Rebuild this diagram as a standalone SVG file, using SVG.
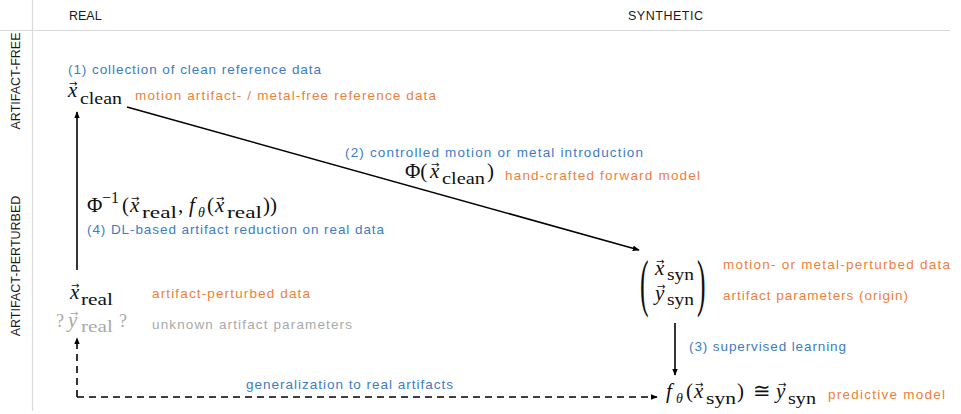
<svg xmlns="http://www.w3.org/2000/svg" width="961" height="414" viewBox="0 0 961 414">
<defs>
<style>
.lbl{font-family:"Liberation Sans",Arial,sans-serif;font-size:13.5px}
.hdr{font-family:"Liberation Sans",Arial,sans-serif;font-size:12.5px;fill:#1a1a1a}
.blue{fill:#3d7cc2}
.orange{fill:#ee7f38}
.gray{fill:#a9a9a9}
.m{font-family:"Liberation Serif","DejaVu Serif",serif;font-size:21px;fill:#111}
.mg{fill:#a9a9a9}
.it{font-style:italic}
.sub{font-size:17px}
.vec{font-family:"DejaVu Sans",sans-serif;font-size:10px;font-style:normal}
.grid{stroke:#d9d9d9;stroke-width:1.2;fill:none}
.edge{stroke:#000;stroke-width:1.6;fill:none}
.dash{stroke-dasharray:7 5}
</style>
<marker id="ah" viewBox="0 0 10 10" refX="9" refY="5" markerWidth="7" markerHeight="7" orient="auto" markerUnits="userSpaceOnUse">
<path d="M0,1 L10,5 L0,9 z" fill="#000"/>
</marker>
</defs>
<rect width="961" height="414" fill="#fff"/>
<g id="grid">
<line class="grid" x1="0" y1="30.5" x2="950" y2="30.5"/>
<line class="grid" x1="32.5" y1="0" x2="32.5" y2="411"/>
</g>
<g id="headers">
<text class="hdr" x="69" y="20">REAL</text>
<text class="hdr" x="628" y="20" textLength="75">SYNTHETIC</text>
<text class="hdr" transform="translate(20,81) rotate(-90)" text-anchor="middle">ARTIFACT-FREE</text>
<text class="hdr" transform="translate(20,266) rotate(-90)" text-anchor="middle">ARTIFACT-PERTURBED</text>
</g>
<g id="connectors">
<line class="edge" x1="127" y1="107" x2="639" y2="250" marker-end="url(#ah)"/>
<line class="edge" x1="77" y1="270" x2="77" y2="112" marker-end="url(#ah)"/>
<line class="edge" x1="675" y1="323" x2="675" y2="375" marker-end="url(#ah)"/>
<line class="edge dash" x1="77" y1="397" x2="77" y2="338" marker-end="url(#ah)"/>
<line class="edge dash" x1="77" y1="397" x2="657" y2="397" marker-end="url(#ah)"/>
</g>
<g id="node-clean">
<text class="lbl blue" x="68" y="74" textLength="253">(1) collection of clean reference data</text>
<text class="m"><tspan class="vec" x="69" y="87">→</tspan><tspan class="it" x="68" y="97">x</tspan><tspan class="sub" x="80" y="104" textLength="42" lengthAdjust="spacingAndGlyphs">clean</tspan></text>
<text class="lbl orange" x="135" y="100" textLength="301">motion artifact- / metal-free reference data</text>
</g>
<g id="label-forward">
<text class="lbl blue" x="345" y="157" textLength="298">(2) controlled motion or metal introduction</text>
<text class="m"><tspan x="405" y="178">Φ(</tspan><tspan class="vec" x="431" y="168">→</tspan><tspan class="it" x="430" y="178">x</tspan><tspan class="sub" x="442" y="184" textLength="43" lengthAdjust="spacingAndGlyphs">clean</tspan><tspan x="487" y="178">)</tspan></text>
<text class="lbl orange" x="505" y="180" textLength="195">hand-crafted forward model</text>
</g>
<g id="label-reduction">
<text class="m"><tspan x="87" y="212">Φ</tspan><tspan style="font-size:16px" x="102" y="203">−1</tspan><tspan x="122" y="212">(</tspan><tspan class="vec" x="131" y="202">→</tspan><tspan class="it" x="130" y="212">x</tspan><tspan class="sub" x="142" y="218" textLength="35" lengthAdjust="spacingAndGlyphs">real</tspan><tspan x="178" y="212">,</tspan><tspan class="it" x="189" y="212">f</tspan><tspan class="it" style="font-size:14px" x="198" y="217">θ</tspan><tspan x="207" y="212">(</tspan><tspan class="vec" x="216" y="202">→</tspan><tspan class="it" x="215" y="212">x</tspan><tspan class="sub" x="227" y="218" textLength="35" lengthAdjust="spacingAndGlyphs">real</tspan><tspan x="263" y="212">))</tspan></text>
<text class="lbl blue" x="87" y="234" textLength="297">(4) DL-based artifact reduction on real data</text>
</g>
<g id="node-real">
<text class="m"><tspan class="vec" x="71" y="289">→</tspan><tspan class="it" x="70" y="299">x</tspan><tspan class="sub" x="81" y="305" textLength="32" lengthAdjust="spacingAndGlyphs">real</tspan></text>
<text class="lbl orange" x="152" y="298" textLength="158">artifact-perturbed data</text>
<text class="m mg"><tspan style="font-size:18px" x="56" y="327">?</tspan><tspan class="vec" x="70" y="317">→</tspan><tspan class="it" x="68" y="327">y</tspan><tspan class="sub" x="81" y="332" textLength="32" lengthAdjust="spacingAndGlyphs">real</tspan><tspan style="font-size:18px" x="119" y="327">?</tspan></text>
<text class="lbl gray" x="152" y="329" textLength="200">unknown artifact parameters</text>
</g>
<g id="node-syn">
<text class="m" style="font-size:64px" transform="translate(640,304) scale(0.4,1)">(</text>
<text class="m" style="font-size:64px" transform="translate(697,304) scale(0.4,1)">)</text>
<text class="m"><tspan class="vec" x="656" y="265">→</tspan><tspan class="it" x="655" y="275">x</tspan><tspan class="sub" x="667" y="280" textLength="27" lengthAdjust="spacingAndGlyphs">syn</tspan></text>
<text class="m"><tspan class="vec" x="657" y="290">→</tspan><tspan class="it" x="655" y="300">y</tspan><tspan class="sub" x="667" y="305" textLength="27" lengthAdjust="spacingAndGlyphs">syn</tspan></text>
<text class="lbl orange" x="723" y="269" textLength="227">motion- or metal-perturbed data</text>
<text class="lbl orange" x="723" y="300" textLength="185">artifact parameters (origin)</text>
</g>
<g id="label-learning">
<text class="lbl blue" x="689" y="351" textLength="157">(3) supervised learning</text>
</g>
<g id="node-model">
<text class="m"><tspan class="it" x="666" y="398">f</tspan><tspan class="it" style="font-size:14px" x="676" y="403">θ</tspan><tspan x="686" y="398">(</tspan><tspan class="vec" x="695" y="388">→</tspan><tspan class="it" x="694" y="398">x</tspan><tspan class="sub" x="706" y="404" textLength="30" lengthAdjust="spacingAndGlyphs">syn</tspan><tspan x="737" y="398">)</tspan><tspan x="753" y="398">≅</tspan><tspan class="vec" x="778" y="388">→</tspan><tspan class="it" x="776" y="398">y</tspan><tspan class="sub" x="788" y="404" textLength="28" lengthAdjust="spacingAndGlyphs">syn</tspan></text>
<text class="lbl orange" x="828" y="399" textLength="117">predictive model</text>
</g>
<g id="label-generalization">
<text class="lbl blue" x="246" y="389" textLength="207">generalization to real artifacts</text>
</g>
</svg>
